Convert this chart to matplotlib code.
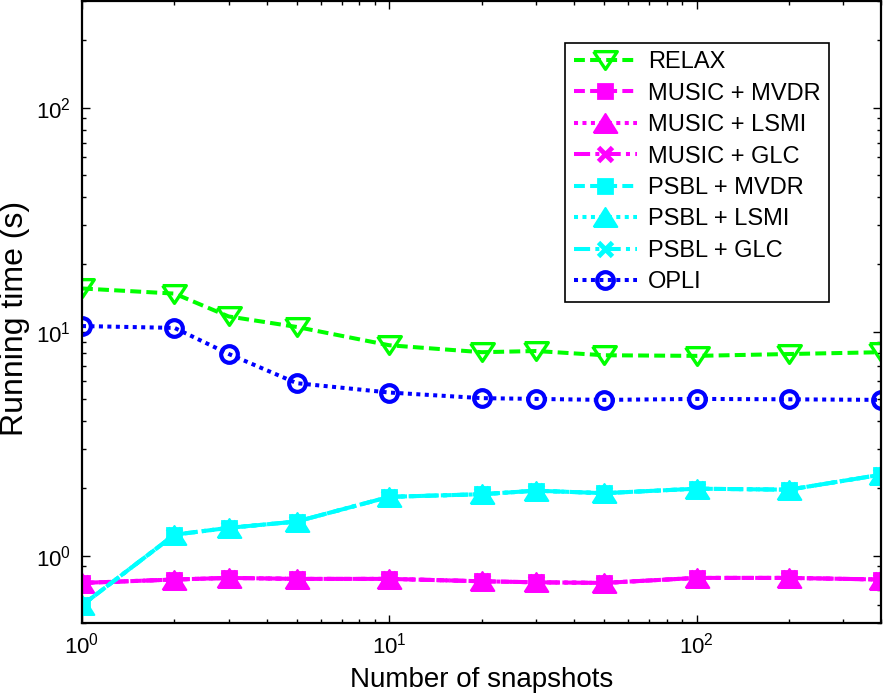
import matplotlib
matplotlib.use('Agg')
import matplotlib.pyplot as plt
from matplotlib.ticker import LogLocator, NullFormatter

plt.rcParams['font.family'] = ['Liberation Sans', 'DejaVu Sans']
plt.rcParams['mathtext.default'] = 'regular'

snapshots = [1, 2, 3, 5, 10, 20, 30, 50, 100, 200, 400]
relax = [15.6, 14.8, 11.7, 10.5, 8.7, 8.1, 8.2, 7.85, 7.8, 7.95, 8.1]
music_mvdr = [0.755, 0.782, 0.795, 0.787, 0.787, 0.768, 0.760, 0.755, 0.795, 0.795, 0.782]
music_lsmi = [0.755, 0.782, 0.795, 0.787, 0.787, 0.768, 0.760, 0.755, 0.795, 0.795, 0.782]
music_glc = [0.755, 0.782, 0.795, 0.787, 0.787, 0.768, 0.760, 0.755, 0.795, 0.795, 0.782]
psbl_mvdr = [0.60, 1.24, 1.33, 1.42, 1.83, 1.88, 1.95, 1.90, 1.99, 1.97, 2.30]
psbl_lsmi = [0.60, 1.24, 1.33, 1.42, 1.83, 1.88, 1.95, 1.90, 1.99, 1.97, 2.30]
psbl_glc = [0.60, 1.24, 1.33, 1.42, 1.83, 1.88, 1.95, 1.90, 1.99, 1.97, 2.30]
opli = [10.6, 10.4, 7.96, 5.89, 5.35, 5.05, 5.01, 4.96, 5.01, 4.99, 4.96]

labels = ['RELAX', 'MUSIC + MVDR', 'MUSIC + LSMI', 'MUSIC + GLC',
          'PSBL + MVDR', 'PSBL + LSMI', 'PSBL + GLC', 'OPLI']

fig = plt.figure(figsize=(8.95, 6.95), dpi=100)
ax = fig.add_axes([82/895, 1 - 623/695, (881.5 - 82)/895, (623 - 1)/695])

lw = 2.9
GREEN, MAG, CYAN, BLUE = (0, 1, 0), (1, 0, 1), (0, 1, 1), (0, 0, 1)
DASH = (0, (2.7, 1.3))
DOT = (0, (1, 1.1))
DASHDOT = (0, (4.0, 1.3, 1, 1.3))
TRI_DOWN = [(-1, 0.75), (1, 0.75), (0, -0.75), (-1, 0.75)]
TRI_UP = [(-1, -0.8), (1, -0.8), (0, 0.8), (-1, -0.8)]

ax.plot(snapshots, relax, color=GREEN, ls=DASH, lw=lw, marker=TRI_DOWN, ms=17,
        mfc='none', mew=2.4, label=labels[0])
ax.plot(snapshots, music_mvdr, color=MAG, ls=DASH, lw=lw, marker='s', ms=10,
        mfc=MAG, mew=2, label=labels[1])
ax.plot(snapshots, music_lsmi, color=MAG, ls=DOT, lw=lw, marker=TRI_UP, ms=17,
        mfc=MAG, mew=1.5, label=labels[2])
ax.plot(snapshots, music_glc, color=MAG, ls=DASHDOT, lw=lw, marker='x', ms=10,
        mew=3.5, label=labels[3])
ax.plot(snapshots, psbl_mvdr, color=CYAN, ls=DASH, lw=lw, marker='s', ms=10,
        mfc=CYAN, mew=2, label=labels[4])
ax.plot(snapshots, psbl_lsmi, color=CYAN, ls=DOT, lw=lw, marker=TRI_UP, ms=17,
        mfc=CYAN, mew=1.5, label=labels[5])
ax.plot(snapshots, psbl_glc, color=CYAN, ls=DASHDOT, lw=lw, marker='x', ms=10,
        mew=3.5, label=labels[6])
ax.plot(snapshots, opli, color=BLUE, ls=DOT, lw=lw, marker='o', ms=12,
        mfc='none', mew=3, label=labels[7])

ax.set_xscale('log')
ax.set_yscale('log')
ax.set_xlim(1, 400)
ax.set_ylim(0.5, 300)

for axis in (ax.xaxis, ax.yaxis):
    axis.set_major_locator(LogLocator(base=10, numticks=10))
    axis.set_minor_locator(LogLocator(base=10, subs=range(2, 10), numticks=20))
    axis.set_minor_formatter(NullFormatter())

ax.tick_params(which='both', direction='in', top=True, right=True, width=1,
               labelsize=16, colors='black')
ax.tick_params(which='major', length=6)
ax.tick_params(which='minor', length=3)
ax.tick_params(axis='x', which='major', pad=7)
ax.tick_params(axis='y', which='major', pad=8)
for s in ax.spines.values():
    s.set_linewidth(1.6)

ax.set_xlabel('Number of snapshots', fontsize=20, va='top')
ax.xaxis.set_label_coords(0.5, -0.0707)
ax.set_ylabel('Running time (s)', fontsize=23, va='center')
ax.yaxis.set_label_coords(-0.084, 0.49)

leg = ax.legend(loc='upper left', bbox_to_anchor=(0.6045, 0.9325), fontsize=17,
                handlelength=2.7, handletextpad=0.45, labelspacing=0.4,
                borderpad=0.35, borderaxespad=0, fancybox=False, frameon=True,
                framealpha=1, edgecolor='black')
leg.get_frame().set_linewidth(1.2)

fig.savefig('out.png', dpi=100)
